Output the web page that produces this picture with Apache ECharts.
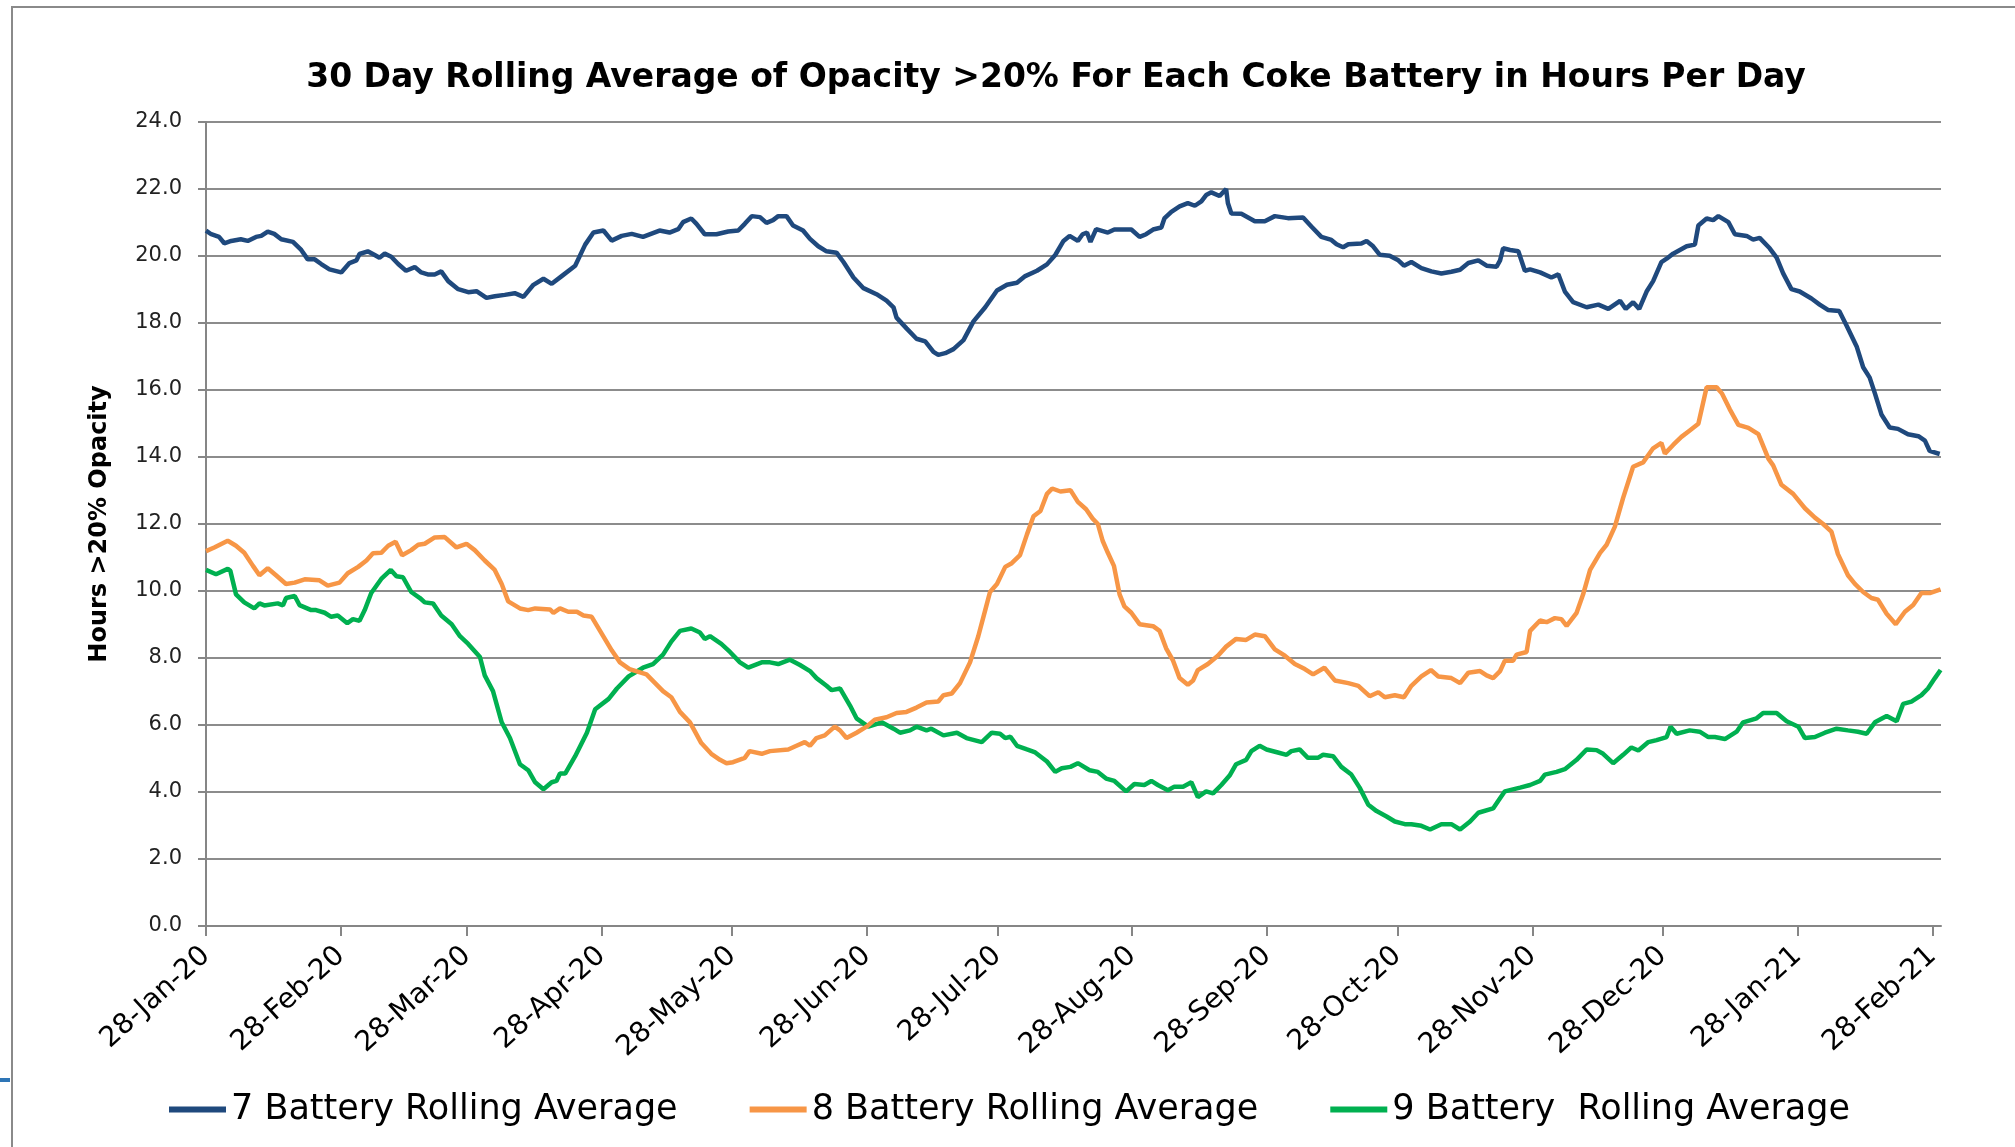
<!DOCTYPE html>
<html>
<head>
<meta charset="utf-8">
<script src="https://cdn.jsdelivr.net/npm/echarts@6/dist/echarts.min.js"></script>
<style>
  html, body { margin: 0; padding: 0; background: #fff; }
  #chart { width: 2015px; height: 1147px; }
</style>
</head>
<body>
<div id="chart"></div>
<script>
// x is days since 28-Jan-20, y is hours per day
const tickDays = [0, 31, 60, 91, 121, 152, 182, 213, 244, 274, 305, 335, 366, 397];
const tickLabels = ["28-Jan-20", "28-Feb-20", "28-Mar-20", "28-Apr-20", "28-May-20", "28-Jun-20",
  "28-Jul-20", "28-Aug-20", "28-Sep-20", "28-Oct-20", "28-Nov-20", "28-Dec-20", "28-Jan-21", "28-Feb-21"];
const seriesNames = ["7 Battery Rolling Average", "8 Battery Rolling Average", "9 Battery  Rolling Average"];
const colors = ["#1F497D", "#F79646", "#00B050"];

const battery7 = [
  [0,20.76],[1.2,20.65],[3,20.57],[4.2,20.38],[5.8,20.45],[8,20.5],[9.6,20.45],[11.5,20.57],[12.7,20.6],[14.2,20.73],
  [15.7,20.66],[17.3,20.5],[20,20.42],[21.9,20.18],[23.4,19.9],[25,19.9],[26.5,19.76],[28.4,19.6],[31.1,19.51],[33,19.79],
  [34.6,19.87],[35.3,20.06],[37.2,20.14],[38.8,20.03],[39.9,19.95],[41.1,20.07],[42.6,19.98],[44.2,19.76],[46,19.56],[48,19.67],
  [49.5,19.51],[51,19.45],[52.6,19.45],[54.1,19.54],[55.7,19.25],[58,19.01],[60.3,18.92],[62.2,18.95],[64.5,18.75],[66.4,18.8],
  [68.7,18.84],[71,18.89],[73,18.78],[75.3,19.14],[77.6,19.32],[79.5,19.17],[81.8,19.4],[84.9,19.71],[87.2,20.34],[89.1,20.7],
  [91.4,20.76],[93.3,20.46],[95.6,20.6],[97.9,20.66],[100.5,20.57],[104.3,20.76],[106.6,20.7],[108.6,20.8],[109.7,21.01],[111.6,21.12],
  [112.8,20.96],[114.7,20.65],[117.4,20.65],[120.1,20.73],[122.4,20.76],[123.9,20.96],[125.5,21.19],[127.4,21.16],[128.9,20.99],[130.4,21.07],
  [131.6,21.19],[133.5,21.19],[135,20.91],[137.3,20.76],[138.9,20.51],[140.8,20.29],[142.7,20.14],[145,20.1],[146.6,19.82],[148.9,19.36],
  [151.2,19.04],[154.2,18.86],[156.5,18.67],[158.1,18.47],[158.8,18.16],[161.1,17.84],[163.4,17.53],[165.4,17.45],[167.3,17.14],[168.4,17.05],
  [170,17.1],[171.9,17.22],[174.2,17.49],[176.5,18.05],[179.2,18.47],[181.9,18.97],[184.2,19.14],[186.5,19.2],[188.4,19.4],[191.1,19.56],
  [193.4,19.75],[195.3,20.03],[197.2,20.45],[198.6,20.6],[200.5,20.45],[201.6,20.65],[202.6,20.7],[203.4,20.42],[204.7,20.8],[207.4,20.7],
  [208.9,20.79],[212.8,20.79],[214.7,20.57],[216.2,20.65],[217.8,20.79],[219.7,20.85],[220.4,21.12],[222,21.32],[223.9,21.48],[225.8,21.58],
  [227.4,21.5],[228.9,21.63],[230,21.82],[231.2,21.9],[233.1,21.79],[234.6,22.0],[235,21.58],[235.8,21.27],[238.1,21.26],[241.2,21.04],
  [243.5,21.04],[245.8,21.19],[248.8,21.13],[252.3,21.15],[254.2,20.88],[256.5,20.57],[258.8,20.48],[260,20.35],[261.5,20.26],[262.7,20.35],
  [265.7,20.37],[266.9,20.45],[268.4,20.29],[269.9,20.04],[272.2,20.01],[274.2,19.87],[275.5,19.71],[277.2,19.82],[279.5,19.64],[281.8,19.54],
  [284.1,19.48],[286.4,19.53],[288.4,19.59],[290.3,19.79],[292.6,19.87],[294.5,19.71],[296.8,19.68],[297.6,19.87],[298.3,20.23],[299.9,20.18],
  [301.8,20.14],[303.3,19.56],[304.5,19.6],[306.8,19.51],[309.4,19.36],[311,19.45],[312.5,18.94],[314.4,18.62],[317.5,18.47],[320.2,18.55],
  [322.5,18.42],[325.2,18.66],[326.5,18.42],[328.2,18.62],[329.6,18.42],[331.3,18.94],[332.8,19.25],[334.7,19.82],[335.9,19.92],[337.4,20.07],
  [340.5,20.29],[342.4,20.34],[343.2,20.91],[345.1,21.12],[346.6,21.07],[347.8,21.19],[350.1,21.01],[351.6,20.65],[354.3,20.6],[355.8,20.49],
  [357.3,20.54],[359.6,20.23],[361.2,19.95],[362.7,19.48],[364.6,19.01],[366.5,18.94],[369.2,18.73],[371.1,18.55],[373,18.39],[375.6,18.36],
  [377.3,17.92],[379.6,17.3],[381.1,16.68],[382.6,16.37],[383.8,15.9],[385.3,15.27],[387.2,14.88],[389.1,14.84],[391.4,14.68],[393.8,14.62],
  [395.3,14.49],[396.4,14.18],[398.7,14.09]
];

const battery8 = [
  [0,11.19],[1.9,11.3],[5,11.5],[6.9,11.35],[8.8,11.14],[10.8,10.75],[12.3,10.47],[14.2,10.68],[16.1,10.47],[18.4,10.21],
  [20.4,10.25],[22.7,10.35],[26.1,10.32],[28,10.16],[30.7,10.25],[32.6,10.53],[35,10.72],[36.9,10.91],[38.4,11.13],[40.3,11.14],
  [41.9,11.35],[43.6,11.47],[45.1,11.07],[47.2,11.22],[48.8,11.38],[50.3,11.41],[52.6,11.6],[54.9,11.61],[57.6,11.3],[59.9,11.41],
  [61.8,11.22],[64.1,10.91],[66.4,10.63],[68,10.21],[69.5,9.69],[72.2,9.48],[74.1,9.43],[75.7,9.48],[79.1,9.45],[79.9,9.35],
  [81.4,9.48],[83.3,9.38],[85.3,9.38],[86.8,9.27],[88.7,9.23],[91,8.73],[93.3,8.23],[95.2,7.87],[97.4,7.67],[101.3,7.51],
  [105.1,7.01],[107,6.83],[109,6.39],[111.3,6.08],[113.9,5.46],[116.2,5.14],[118.2,4.96],[119.7,4.86],[121.2,4.89],[123.9,5.02],
  [125,5.22],[127.8,5.14],[129.7,5.22],[133.9,5.27],[135.8,5.38],[137.7,5.49],[138.9,5.38],[140.4,5.61],[142.3,5.69],[144.6,5.95],
  [145.8,5.84],[147.3,5.61],[149.6,5.77],[151.9,5.95],[153.8,6.16],[156.5,6.23],[158.8,6.36],[161.1,6.39],[163.4,6.52],[165.7,6.67],
  [168.4,6.7],[169.6,6.89],[171.5,6.94],[173.4,7.25],[175.7,7.87],[177.6,8.65],[179.2,9.43],[180.3,9.97],[181.9,10.21],[183.8,10.72],
  [185.3,10.83],[187.2,11.07],[188.8,11.69],[190.3,12.23],[191.9,12.39],[193.4,12.9],[194.6,13.06],[196.5,12.97],[198.8,13.01],[200.5,12.66],
  [202.4,12.44],[203.9,12.16],[205.1,12.0],[206.2,11.5],[207.4,11.14],[208.8,10.75],[210.1,9.9],[211.2,9.54],[212.8,9.35],[214.7,9.01],
  [217.8,8.95],[219.3,8.81],[220.8,8.29],[222.4,7.92],[223.9,7.4],[225.8,7.2],[227,7.33],[228.1,7.64],[230.4,7.82],[232.7,8.07],
  [234.6,8.34],[236.9,8.57],[239.2,8.54],[241.2,8.7],[243.5,8.65],[245.8,8.26],[248.1,8.07],[250.4,7.82],[252.7,7.67],[254.6,7.51],
  [257.2,7.71],[259.6,7.33],[262.7,7.25],[265,7.17],[267.6,6.86],[269.6,6.98],[271.1,6.83],[273.4,6.89],[275.5,6.83],[277.2,7.17],
  [279.5,7.45],[281.7,7.64],[283.4,7.45],[286.4,7.4],[288.4,7.25],[290.3,7.56],[293,7.61],[294.5,7.48],[296,7.4],[297.6,7.61],
  [298.7,7.92],[300.6,7.92],[301.4,8.1],[303.7,8.18],[304.5,8.81],[306.8,9.12],[308.3,9.07],[310.2,9.19],[311.7,9.16],[312.9,8.96],
  [315.2,9.35],[316.7,9.9],[318.3,10.63],[320.6,11.14],[322.1,11.38],[324,11.92],[325.9,12.78],[328.2,13.71],[330.5,13.84],[332.8,14.26],
  [334.7,14.42],[335.5,14.1],[337.4,14.36],[339.3,14.6],[341.3,14.8],[343.2,14.99],[345.1,16.08],[347.4,16.08],[348.6,15.9],[350.4,15.43],
  [352.4,14.96],[354.7,14.87],[357,14.68],[359.3,13.95],[360.4,13.75],[362.3,13.17],[365,12.9],[367.7,12.47],[370,12.19],[371.9,12.0],
  [373.8,11.77],[375.3,11.1],[377.6,10.47],[379.2,10.21],[381.1,9.97],[383,9.79],[384.5,9.74],[386.5,9.32],[388.6,9.01],[390.7,9.38],
  [392.6,9.58],[394.5,9.94],[396.4,9.94],[398.9,10.05]
];

const battery9 = [
  [0,10.63],[2.3,10.5],[5,10.66],[5.6,10.6],[6.9,9.9],[8.8,9.66],[11.1,9.48],[12.3,9.63],[13.4,9.57],[16.5,9.63],
  [17.7,9.57],[18.4,9.79],[20.4,9.85],[21.5,9.58],[24.2,9.43],[25.3,9.43],[27.3,9.35],[28.8,9.23],[30.3,9.27],[32.5,9.04],
  [33.8,9.16],[35.3,9.11],[36.5,9.43],[38,9.94],[40.3,10.36],[42.5,10.63],[43.8,10.44],[45.3,10.41],[47.2,9.97],[49.2,9.79],
  [50.3,9.66],[52.2,9.63],[54.1,9.27],[56.5,9.01],[58.4,8.65],[60.3,8.42],[63,8.03],[64.1,7.48],[66,7.01],[68,6.08],
  [69.9,5.61],[72.2,4.83],[74.1,4.65],[75.7,4.29],[77.6,4.08],[79.5,4.29],[80.6,4.33],[81.4,4.55],[82.6,4.55],[84.9,5.07],
  [87.6,5.77],[89.5,6.47],[92.6,6.78],[94.5,7.09],[97.2,7.45],[100.5,7.71],[102.8,7.82],[105.1,8.1],[107,8.49],[109,8.81],
  [111.6,8.88],[113.6,8.76],[114.7,8.57],[115.9,8.65],[118.5,8.42],[120.5,8.18],[122.8,7.87],[124.7,7.71],[127.8,7.87],[129.7,7.87],
  [131.6,7.82],[134.3,7.95],[136.6,7.79],[138.9,7.61],[140.4,7.4],[142.7,7.17],[143.9,7.04],[145.8,7.09],[148.1,6.58],[149.6,6.2],
  [152.3,5.95],[155.4,6.08],[158.1,5.89],[159.6,5.77],[161.9,5.84],[163.4,5.95],[165.7,5.84],[166.8,5.89],[169.6,5.69],[172.7,5.77],
  [174.9,5.61],[178.4,5.49],[180.7,5.77],[182.6,5.74],[183.8,5.61],[185,5.65],[186.5,5.38],[188.8,5.27],[190.7,5.18],[193.4,4.91],
  [195.3,4.6],[196.8,4.71],[198.8,4.75],[200.5,4.86],[203.2,4.65],[205.1,4.6],[207,4.4],[208.9,4.33],[211.6,4.02],[213.5,4.24],
  [215.8,4.21],[217.4,4.33],[218.9,4.21],[221.2,4.05],[222.7,4.16],[224.7,4.16],[226.6,4.29],[228.1,3.85],[230,4.02],[231.6,3.96],
  [233.5,4.21],[235.4,4.49],[236.9,4.83],[239.2,4.96],[240.4,5.22],[242.3,5.38],[243.9,5.27],[246.5,5.18],[248.5,5.11],[249.6,5.22],
  [251.5,5.27],[253.4,5.02],[255.7,5.02],[256.9,5.11],[259.2,5.07],[261.1,4.75],[263.4,4.52],[265.3,4.13],[267.3,3.62],[269.2,3.43],
  [271.5,3.27],[273.4,3.12],[275.7,3.04],[277.2,3.04],[279.5,2.99],[281.5,2.88],[284.1,3.04],[286.4,3.04],[288.4,2.88],[290.7,3.12],
  [292.6,3.38],[296,3.51],[297.2,3.74],[298.7,4.02],[302.2,4.13],[304.5,4.21],[306.8,4.33],[307.9,4.52],[310.6,4.6],[312.5,4.68],
  [315.2,4.96],[317.5,5.27],[319.8,5.25],[321.3,5.14],[323.6,4.86],[325.9,5.11],[327.8,5.33],[329.4,5.24],[331.7,5.49],[333.6,5.55],
  [335.9,5.64],[336.8,5.95],[338.2,5.74],[341.2,5.84],[343.5,5.8],[345.5,5.64],[347,5.64],[349.3,5.58],[352,5.8],[353.5,6.08],
  [356.6,6.2],[358.1,6.36],[361.2,6.36],[363.5,6.11],[366.2,5.95],[367.7,5.61],[370,5.64],[372.3,5.77],[375,5.89],[377.6,5.84],
  [379.9,5.8],[381.9,5.74],[383.8,6.08],[386.5,6.27],[388.8,6.11],[390.3,6.63],[392.2,6.7],[394.5,6.89],[396,7.09],[397.6,7.4],
  [398.9,7.64]
];

const chart = echarts.init(document.getElementById("chart"));

const option = {
  animation: false,
  color: colors,
  title: {
    text: "30 Day Rolling Average of Opacity >20% For Each Coke Battery in Hours Per Day",
    left: 1051,
    textAlign: "center",
    top: 57,
    textStyle: { fontFamily: "DejaVu Sans", fontWeight: "bold", fontSize: 33, color: "#000" }
  },
  legend: {
    left: 164,
    top: 1087,
    icon: "rect",
    itemWidth: 57,
    itemHeight: 6,
    itemGap: 72,
    textStyle: { fontFamily: "DejaVu Sans", fontSize: 35, color: "#000" },
    data: seriesNames
  },
  grid: { left: 206, right: 74, top: 122, bottom: 221 },
  xAxis: {
    type: "value",
    min: 0,
    max: 399,
    axisLine: { lineStyle: { color: "#868686", width: 2 } },
    axisTick: { customValues: tickDays, length: 10, lineStyle: { color: "#868686", width: 2 } },
    axisLabel: {
      customValues: tickDays,
      rotate: 42,
      margin: 26,
      fontFamily: "DejaVu Sans",
      fontSize: 28,
      color: "#000",
      formatter: (v) => tickLabels[tickDays.indexOf(v)] || ""
    },
    splitLine: { show: false }
  },
  yAxis: {
    type: "value",
    min: 0,
    max: 24,
    interval: 2,
    name: "Hours >20% Opacity",
    nameLocation: "middle",
    nameRotate: 90,
    nameGap: 94,
    nameTextStyle: { fontFamily: "DejaVu Sans", fontWeight: "bold", fontSize: 24, color: "#000" },
    axisLine: { show: true, lineStyle: { color: "#868686", width: 2 } },
    axisTick: { show: true, length: 8, lineStyle: { color: "#868686", width: 2 } },
    axisLabel: {
      margin: 24,
      fontFamily: "DejaVu Sans",
      fontSize: 21,
      color: "#222",
      formatter: (v) => v.toFixed(1)
    },
    splitLine: { lineStyle: { color: "#8c8c8c", width: 2 } }
  },
  series: [battery7, battery8, battery9].map((d, i) => ({
    name: seriesNames[i],
    type: "line",
    data: d,
    showSymbol: false,
    lineStyle: { width: 4.5, color: colors[i] },
    z: 3 - i
  })),
  graphic: [
    {
      type: "polyline",
      shape: { points: [[12, 1147], [12, 7], [2015, 7]] },
      style: { stroke: "#8a8a8a", lineWidth: 2, fill: null }
    },
    {
      type: "rect",
      shape: { x: 0, y: 1078, width: 10, height: 4 },
      style: { fill: "#2E75B6" }
    }
  ]
};

chart.setOption(option);
</script>
</body>
</html>
